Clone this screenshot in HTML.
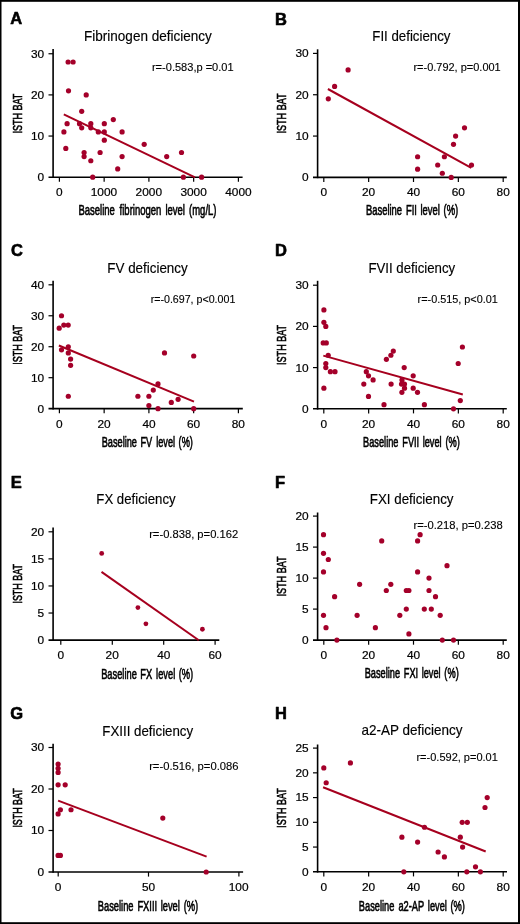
<!DOCTYPE html>
<html><head><meta charset="utf-8"><style>
html,body{margin:0;padding:0;background:#fff;}
body{width:520px;height:924px;overflow:hidden;}
svg{display:block;font-family:"Liberation Sans",sans-serif;will-change:transform;}
</style></head><body>
<svg width="520" height="924" viewBox="0 0 520 924">
<rect x="0" y="0" width="520" height="924" fill="#fff"/>
<line x1="53.1" y1="49.1" x2="53.1" y2="178.00" stroke="#000" stroke-width="1.6"/>
<line x1="48.5" y1="177.2" x2="242.6" y2="177.2" stroke="#000" stroke-width="1.6"/>
<text transform="translate(37.52,181.10) scale(1.0800,1)" font-size="11.0" font-weight="normal" fill="#000" stroke="#000" stroke-width="0.2">0</text>
<line x1="48.50" y1="136.05" x2="53.1" y2="136.05" stroke="#000" stroke-width="1.2"/>
<text transform="translate(30.93,139.95) scale(1.0800,1)" font-size="11.0" font-weight="normal" fill="#000" stroke="#000" stroke-width="0.2">10</text>
<line x1="48.50" y1="94.90" x2="53.1" y2="94.90" stroke="#000" stroke-width="1.2"/>
<text transform="translate(30.93,98.80) scale(1.0800,1)" font-size="11.0" font-weight="normal" fill="#000" stroke="#000" stroke-width="0.2">20</text>
<line x1="48.50" y1="53.75" x2="53.1" y2="53.75" stroke="#000" stroke-width="1.2"/>
<text transform="translate(30.93,57.65) scale(1.0800,1)" font-size="11.0" font-weight="normal" fill="#000" stroke="#000" stroke-width="0.2">30</text>
<line x1="59.40" y1="177.2" x2="59.40" y2="181.80" stroke="#000" stroke-width="1.2"/>
<text transform="translate(56.07,196.10) scale(1.0800,1)" font-size="11.0" font-weight="normal" fill="#000" stroke="#000" stroke-width="0.2">0</text>
<line x1="104.15" y1="177.2" x2="104.15" y2="181.80" stroke="#000" stroke-width="1.2"/>
<text transform="translate(90.70,196.10) scale(1.0800,1)" font-size="11.0" font-weight="normal" fill="#000" stroke="#000" stroke-width="0.2">1000</text>
<line x1="148.90" y1="177.2" x2="148.90" y2="181.80" stroke="#000" stroke-width="1.2"/>
<text transform="translate(135.59,196.10) scale(1.0800,1)" font-size="11.0" font-weight="normal" fill="#000" stroke="#000" stroke-width="0.2">2000</text>
<line x1="193.65" y1="177.2" x2="193.65" y2="181.80" stroke="#000" stroke-width="1.2"/>
<text transform="translate(180.40,196.10) scale(1.0800,1)" font-size="11.0" font-weight="normal" fill="#000" stroke="#000" stroke-width="0.2">3000</text>
<line x1="238.40" y1="177.2" x2="238.40" y2="181.80" stroke="#000" stroke-width="1.2"/>
<text transform="translate(225.27,196.10) scale(1.0800,1)" font-size="11.0" font-weight="normal" fill="#000" stroke="#000" stroke-width="0.2">4000</text>
<line x1="63.8" y1="114.4" x2="195" y2="177.3" stroke="#a6001e" stroke-width="2.0"/>
<circle cx="68.1" cy="61.98" r="2.6" fill="#a4002a"/>
<circle cx="73.1" cy="61.98" r="2.6" fill="#a4002a"/>
<circle cx="68.5" cy="90.78" r="2.6" fill="#a4002a"/>
<circle cx="86.2" cy="94.90" r="2.6" fill="#a4002a"/>
<circle cx="81.7" cy="111.36" r="2.6" fill="#a4002a"/>
<circle cx="67.1" cy="123.70" r="2.6" fill="#a4002a"/>
<circle cx="79.5" cy="123.70" r="2.6" fill="#a4002a"/>
<circle cx="90.8" cy="123.70" r="2.6" fill="#a4002a"/>
<circle cx="104.3" cy="123.70" r="2.6" fill="#a4002a"/>
<circle cx="113.3" cy="119.59" r="2.6" fill="#a4002a"/>
<circle cx="81.7" cy="127.82" r="2.6" fill="#a4002a"/>
<circle cx="90.8" cy="127.82" r="2.6" fill="#a4002a"/>
<circle cx="63.9" cy="131.94" r="2.6" fill="#a4002a"/>
<circle cx="98.3" cy="131.94" r="2.6" fill="#a4002a"/>
<circle cx="104.3" cy="131.94" r="2.6" fill="#a4002a"/>
<circle cx="122.1" cy="131.94" r="2.6" fill="#a4002a"/>
<circle cx="104.3" cy="140.16" r="2.6" fill="#a4002a"/>
<circle cx="65.8" cy="148.39" r="2.6" fill="#a4002a"/>
<circle cx="84.1" cy="152.51" r="2.6" fill="#a4002a"/>
<circle cx="100.1" cy="152.51" r="2.6" fill="#a4002a"/>
<circle cx="84.1" cy="156.62" r="2.6" fill="#a4002a"/>
<circle cx="122.1" cy="156.62" r="2.6" fill="#a4002a"/>
<circle cx="90.8" cy="160.74" r="2.6" fill="#a4002a"/>
<circle cx="117.7" cy="168.97" r="2.6" fill="#a4002a"/>
<circle cx="92.7" cy="177.20" r="2.6" fill="#a4002a"/>
<circle cx="144.2" cy="144.28" r="2.6" fill="#a4002a"/>
<circle cx="166.7" cy="156.62" r="2.6" fill="#a4002a"/>
<circle cx="181.5" cy="152.51" r="2.6" fill="#a4002a"/>
<circle cx="183.4" cy="177.20" r="2.6" fill="#a4002a"/>
<circle cx="201.6" cy="177.20" r="2.6" fill="#a4002a"/>
<text transform="translate(10.19,24.40) scale(1.0000,1)" font-size="16.5" font-weight="bold" fill="#000" stroke="#000" stroke-width="0.6" stroke-linejoin="round">A</text>
<text transform="translate(84.09,40.80) scale(0.9655,1)" font-size="14.0" font-weight="normal" fill="#000" stroke="#000" stroke-width="0.15">Fibrinogen deficiency</text>
<text transform="translate(151.94,70.70) scale(1.0635,1)" font-size="10.4" font-weight="normal" fill="#000" stroke="#000" stroke-width="0.12">r=-0.583,p =0.01</text>
<text transform="translate(78.44,215.40) scale(0.6699,1)" font-size="14.2" font-weight="normal" fill="#000" stroke="#000" stroke-width="0.6">Baseline</text>
<text transform="translate(119.61,215.40) scale(0.6699,1)" font-size="14.2" font-weight="normal" fill="#000" stroke="#000" stroke-width="0.6">fibrinogen</text>
<text transform="translate(165.40,215.40) scale(0.6699,1)" font-size="14.2" font-weight="normal" fill="#000" stroke="#000" stroke-width="0.6">level</text>
<text transform="translate(189.02,215.40) scale(0.6699,1)" font-size="14.2" font-weight="normal" fill="#000" stroke="#000" stroke-width="0.6">(mg/L)</text>
<text transform="translate(22.00,133.51) rotate(-90) scale(0.6828,1)" font-size="13.2" font-weight="normal" fill="#000" stroke="#000" stroke-width="0.6">ISTH BAT</text>
<line x1="317.6" y1="49.3" x2="317.6" y2="178.20" stroke="#000" stroke-width="1.6"/>
<line x1="313.0" y1="177.4" x2="506.8" y2="177.4" stroke="#000" stroke-width="1.6"/>
<text transform="translate(302.02,181.30) scale(1.0800,1)" font-size="11.0" font-weight="normal" fill="#000" stroke="#000" stroke-width="0.2">0</text>
<line x1="313.00" y1="136.07" x2="317.6" y2="136.07" stroke="#000" stroke-width="1.2"/>
<text transform="translate(295.43,139.97) scale(1.0800,1)" font-size="11.0" font-weight="normal" fill="#000" stroke="#000" stroke-width="0.2">10</text>
<line x1="313.00" y1="94.74" x2="317.6" y2="94.74" stroke="#000" stroke-width="1.2"/>
<text transform="translate(295.43,98.64) scale(1.0800,1)" font-size="11.0" font-weight="normal" fill="#000" stroke="#000" stroke-width="0.2">20</text>
<line x1="313.00" y1="53.41" x2="317.6" y2="53.41" stroke="#000" stroke-width="1.2"/>
<text transform="translate(295.43,57.31) scale(1.0800,1)" font-size="11.0" font-weight="normal" fill="#000" stroke="#000" stroke-width="0.2">30</text>
<line x1="323.80" y1="177.4" x2="323.80" y2="182.00" stroke="#000" stroke-width="1.2"/>
<text transform="translate(320.47,196.30) scale(1.0800,1)" font-size="11.0" font-weight="normal" fill="#000" stroke="#000" stroke-width="0.2">0</text>
<line x1="368.65" y1="177.4" x2="368.65" y2="182.00" stroke="#000" stroke-width="1.2"/>
<text transform="translate(361.97,196.30) scale(1.0800,1)" font-size="11.0" font-weight="normal" fill="#000" stroke="#000" stroke-width="0.2">20</text>
<line x1="413.50" y1="177.4" x2="413.50" y2="182.00" stroke="#000" stroke-width="1.2"/>
<text transform="translate(407.00,196.30) scale(1.0800,1)" font-size="11.0" font-weight="normal" fill="#000" stroke="#000" stroke-width="0.2">40</text>
<line x1="458.35" y1="177.4" x2="458.35" y2="182.00" stroke="#000" stroke-width="1.2"/>
<text transform="translate(451.67,196.30) scale(1.0800,1)" font-size="11.0" font-weight="normal" fill="#000" stroke="#000" stroke-width="0.2">60</text>
<line x1="503.20" y1="177.4" x2="503.20" y2="182.00" stroke="#000" stroke-width="1.2"/>
<text transform="translate(496.55,196.30) scale(1.0800,1)" font-size="11.0" font-weight="normal" fill="#000" stroke="#000" stroke-width="0.2">80</text>
<line x1="327.9" y1="89" x2="471.3" y2="167.8" stroke="#a6001e" stroke-width="2.0"/>
<circle cx="348.1" cy="69.94" r="2.6" fill="#a4002a"/>
<circle cx="334.6" cy="86.47" r="2.6" fill="#a4002a"/>
<circle cx="328.3" cy="98.87" r="2.6" fill="#a4002a"/>
<circle cx="464.5" cy="127.80" r="2.6" fill="#a4002a"/>
<circle cx="455.6" cy="136.07" r="2.6" fill="#a4002a"/>
<circle cx="453.5" cy="144.34" r="2.6" fill="#a4002a"/>
<circle cx="417.6" cy="156.74" r="2.6" fill="#a4002a"/>
<circle cx="444.4" cy="156.74" r="2.6" fill="#a4002a"/>
<circle cx="437.7" cy="165.00" r="2.6" fill="#a4002a"/>
<circle cx="471.5" cy="165.00" r="2.6" fill="#a4002a"/>
<circle cx="417.6" cy="169.13" r="2.6" fill="#a4002a"/>
<circle cx="442.3" cy="173.27" r="2.6" fill="#a4002a"/>
<circle cx="451.2" cy="177.40" r="2.6" fill="#a4002a"/>
<text transform="translate(274.93,24.60) scale(1.0000,1)" font-size="16.5" font-weight="bold" fill="#000" stroke="#000" stroke-width="0.6" stroke-linejoin="round">B</text>
<text transform="translate(372.31,40.90) scale(0.9486,1)" font-size="14.0" font-weight="normal" fill="#000" stroke="#000" stroke-width="0.15">FII deficiency</text>
<text transform="translate(413.45,71.00) scale(1.0556,1)" font-size="10.4" font-weight="normal" fill="#000" stroke="#000" stroke-width="0.12">r=-0.792, p=0.001</text>
<text transform="translate(365.95,215.40) scale(0.6638,1)" font-size="14.2" font-weight="normal" fill="#000" stroke="#000" stroke-width="0.6">Baseline</text>
<text transform="translate(405.89,215.40) scale(0.6638,1)" font-size="14.2" font-weight="normal" fill="#000" stroke="#000" stroke-width="0.6">FII</text>
<text transform="translate(420.39,215.40) scale(0.6638,1)" font-size="14.2" font-weight="normal" fill="#000" stroke="#000" stroke-width="0.6">level</text>
<text transform="translate(443.56,215.40) scale(0.6638,1)" font-size="14.2" font-weight="normal" fill="#000" stroke="#000" stroke-width="0.6">(%)</text>
<text transform="translate(286.00,133.51) rotate(-90) scale(0.6863,1)" font-size="13.2" font-weight="normal" fill="#000" stroke="#000" stroke-width="0.6">ISTH BAT</text>
<line x1="53.1" y1="280.8" x2="53.1" y2="409.45" stroke="#000" stroke-width="1.6"/>
<line x1="48.5" y1="408.65" x2="242.8" y2="408.65" stroke="#000" stroke-width="1.6"/>
<text transform="translate(37.52,412.55) scale(1.0800,1)" font-size="11.0" font-weight="normal" fill="#000" stroke="#000" stroke-width="0.2">0</text>
<line x1="48.50" y1="377.69" x2="53.1" y2="377.69" stroke="#000" stroke-width="1.2"/>
<text transform="translate(30.93,381.59) scale(1.0800,1)" font-size="11.0" font-weight="normal" fill="#000" stroke="#000" stroke-width="0.2">10</text>
<line x1="48.50" y1="346.73" x2="53.1" y2="346.73" stroke="#000" stroke-width="1.2"/>
<text transform="translate(30.93,350.63) scale(1.0800,1)" font-size="11.0" font-weight="normal" fill="#000" stroke="#000" stroke-width="0.2">20</text>
<line x1="48.50" y1="315.77" x2="53.1" y2="315.77" stroke="#000" stroke-width="1.2"/>
<text transform="translate(30.93,319.67) scale(1.0800,1)" font-size="11.0" font-weight="normal" fill="#000" stroke="#000" stroke-width="0.2">30</text>
<line x1="48.50" y1="284.81" x2="53.1" y2="284.81" stroke="#000" stroke-width="1.2"/>
<text transform="translate(30.93,288.71) scale(1.0800,1)" font-size="11.0" font-weight="normal" fill="#000" stroke="#000" stroke-width="0.2">40</text>
<line x1="59.40" y1="408.65" x2="59.40" y2="413.25" stroke="#000" stroke-width="1.2"/>
<text transform="translate(56.07,427.55) scale(1.0800,1)" font-size="11.0" font-weight="normal" fill="#000" stroke="#000" stroke-width="0.2">0</text>
<line x1="104.15" y1="408.65" x2="104.15" y2="413.25" stroke="#000" stroke-width="1.2"/>
<text transform="translate(97.47,427.55) scale(1.0800,1)" font-size="11.0" font-weight="normal" fill="#000" stroke="#000" stroke-width="0.2">20</text>
<line x1="148.90" y1="408.65" x2="148.90" y2="413.25" stroke="#000" stroke-width="1.2"/>
<text transform="translate(142.40,427.55) scale(1.0800,1)" font-size="11.0" font-weight="normal" fill="#000" stroke="#000" stroke-width="0.2">40</text>
<line x1="193.65" y1="408.65" x2="193.65" y2="413.25" stroke="#000" stroke-width="1.2"/>
<text transform="translate(186.97,427.55) scale(1.0800,1)" font-size="11.0" font-weight="normal" fill="#000" stroke="#000" stroke-width="0.2">60</text>
<line x1="238.40" y1="408.65" x2="238.40" y2="413.25" stroke="#000" stroke-width="1.2"/>
<text transform="translate(231.75,427.55) scale(1.0800,1)" font-size="11.0" font-weight="normal" fill="#000" stroke="#000" stroke-width="0.2">80</text>
<line x1="58.9" y1="345.5" x2="194" y2="401.6" stroke="#a6001e" stroke-width="2.0"/>
<circle cx="61.5" cy="315.77" r="2.6" fill="#a4002a"/>
<circle cx="59.2" cy="328.15" r="2.6" fill="#a4002a"/>
<circle cx="63.8" cy="325.06" r="2.6" fill="#a4002a"/>
<circle cx="68.2" cy="325.06" r="2.6" fill="#a4002a"/>
<circle cx="68.3" cy="346.73" r="2.6" fill="#a4002a"/>
<circle cx="61.5" cy="349.83" r="2.6" fill="#a4002a"/>
<circle cx="68.3" cy="352.92" r="2.6" fill="#a4002a"/>
<circle cx="70.6" cy="359.11" r="2.6" fill="#a4002a"/>
<circle cx="70.6" cy="365.31" r="2.6" fill="#a4002a"/>
<circle cx="68.3" cy="396.27" r="2.6" fill="#a4002a"/>
<circle cx="137.9" cy="396.27" r="2.6" fill="#a4002a"/>
<circle cx="164.5" cy="352.92" r="2.6" fill="#a4002a"/>
<circle cx="193.7" cy="356.02" r="2.6" fill="#a4002a"/>
<circle cx="158" cy="383.88" r="2.6" fill="#a4002a"/>
<circle cx="153.3" cy="390.07" r="2.6" fill="#a4002a"/>
<circle cx="148.9" cy="396.27" r="2.6" fill="#a4002a"/>
<circle cx="178.1" cy="399.36" r="2.6" fill="#a4002a"/>
<circle cx="171.3" cy="402.46" r="2.6" fill="#a4002a"/>
<circle cx="148.9" cy="405.55" r="2.6" fill="#a4002a"/>
<circle cx="158" cy="408.65" r="2.6" fill="#a4002a"/>
<circle cx="193.7" cy="408.65" r="2.6" fill="#a4002a"/>
<text transform="translate(11.04,255.90) scale(1.0000,1)" font-size="16.5" font-weight="bold" fill="#000" stroke="#000" stroke-width="0.6" stroke-linejoin="round">C</text>
<text transform="translate(107.30,272.60) scale(0.9579,1)" font-size="14.0" font-weight="normal" fill="#000" stroke="#000" stroke-width="0.15">FV deficiency</text>
<text transform="translate(150.67,302.50) scale(1.0250,1)" font-size="10.4" font-weight="normal" fill="#000" stroke="#000" stroke-width="0.12">r=-0.697, p&lt;0.001</text>
<text transform="translate(101.66,446.80) scale(0.6489,1)" font-size="14.2" font-weight="normal" fill="#000" stroke="#000" stroke-width="0.6">Baseline</text>
<text transform="translate(140.46,446.80) scale(0.6489,1)" font-size="14.2" font-weight="normal" fill="#000" stroke="#000" stroke-width="0.6">FV</text>
<text transform="translate(156.18,446.80) scale(0.6489,1)" font-size="14.2" font-weight="normal" fill="#000" stroke="#000" stroke-width="0.6">level</text>
<text transform="translate(178.58,446.80) scale(0.6489,1)" font-size="14.2" font-weight="normal" fill="#000" stroke="#000" stroke-width="0.6">(%)</text>
<text transform="translate(21.80,364.80) rotate(-90) scale(0.6811,1)" font-size="13.2" font-weight="normal" fill="#000" stroke="#000" stroke-width="0.6">ISTH BAT</text>
<line x1="317.6" y1="280.8" x2="317.6" y2="409.60" stroke="#000" stroke-width="1.6"/>
<line x1="313.0" y1="408.8" x2="506.8" y2="408.8" stroke="#000" stroke-width="1.6"/>
<text transform="translate(302.02,412.70) scale(1.0800,1)" font-size="11.0" font-weight="normal" fill="#000" stroke="#000" stroke-width="0.2">0</text>
<line x1="313.00" y1="367.60" x2="317.6" y2="367.60" stroke="#000" stroke-width="1.2"/>
<text transform="translate(295.43,371.50) scale(1.0800,1)" font-size="11.0" font-weight="normal" fill="#000" stroke="#000" stroke-width="0.2">10</text>
<line x1="313.00" y1="326.40" x2="317.6" y2="326.40" stroke="#000" stroke-width="1.2"/>
<text transform="translate(295.43,330.30) scale(1.0800,1)" font-size="11.0" font-weight="normal" fill="#000" stroke="#000" stroke-width="0.2">20</text>
<line x1="313.00" y1="285.20" x2="317.6" y2="285.20" stroke="#000" stroke-width="1.2"/>
<text transform="translate(295.43,289.10) scale(1.0800,1)" font-size="11.0" font-weight="normal" fill="#000" stroke="#000" stroke-width="0.2">30</text>
<line x1="323.80" y1="408.8" x2="323.80" y2="413.40" stroke="#000" stroke-width="1.2"/>
<text transform="translate(320.47,427.70) scale(1.0800,1)" font-size="11.0" font-weight="normal" fill="#000" stroke="#000" stroke-width="0.2">0</text>
<line x1="368.65" y1="408.8" x2="368.65" y2="413.40" stroke="#000" stroke-width="1.2"/>
<text transform="translate(361.97,427.70) scale(1.0800,1)" font-size="11.0" font-weight="normal" fill="#000" stroke="#000" stroke-width="0.2">20</text>
<line x1="413.50" y1="408.8" x2="413.50" y2="413.40" stroke="#000" stroke-width="1.2"/>
<text transform="translate(407.00,427.70) scale(1.0800,1)" font-size="11.0" font-weight="normal" fill="#000" stroke="#000" stroke-width="0.2">40</text>
<line x1="458.35" y1="408.8" x2="458.35" y2="413.40" stroke="#000" stroke-width="1.2"/>
<text transform="translate(451.67,427.70) scale(1.0800,1)" font-size="11.0" font-weight="normal" fill="#000" stroke="#000" stroke-width="0.2">60</text>
<line x1="503.20" y1="408.8" x2="503.20" y2="413.40" stroke="#000" stroke-width="1.2"/>
<text transform="translate(496.55,427.70) scale(1.0800,1)" font-size="11.0" font-weight="normal" fill="#000" stroke="#000" stroke-width="0.2">80</text>
<line x1="323.3" y1="355.6" x2="462.8" y2="394.5" stroke="#a6001e" stroke-width="2.0"/>
<circle cx="323.9" cy="309.92" r="2.6" fill="#a4002a"/>
<circle cx="323.9" cy="322.28" r="2.6" fill="#a4002a"/>
<circle cx="325.8" cy="326.40" r="2.6" fill="#a4002a"/>
<circle cx="323.2" cy="342.88" r="2.6" fill="#a4002a"/>
<circle cx="326.3" cy="342.88" r="2.6" fill="#a4002a"/>
<circle cx="328.2" cy="355.24" r="2.6" fill="#a4002a"/>
<circle cx="325.8" cy="363.48" r="2.6" fill="#a4002a"/>
<circle cx="325.8" cy="367.60" r="2.6" fill="#a4002a"/>
<circle cx="330.4" cy="371.72" r="2.6" fill="#a4002a"/>
<circle cx="335" cy="371.72" r="2.6" fill="#a4002a"/>
<circle cx="323.9" cy="388.20" r="2.6" fill="#a4002a"/>
<circle cx="393.3" cy="351.12" r="2.6" fill="#a4002a"/>
<circle cx="390.9" cy="355.24" r="2.6" fill="#a4002a"/>
<circle cx="386.4" cy="359.36" r="2.6" fill="#a4002a"/>
<circle cx="404.2" cy="367.60" r="2.6" fill="#a4002a"/>
<circle cx="366.3" cy="371.72" r="2.6" fill="#a4002a"/>
<circle cx="368.5" cy="375.84" r="2.6" fill="#a4002a"/>
<circle cx="373.1" cy="379.96" r="2.6" fill="#a4002a"/>
<circle cx="363.8" cy="384.08" r="2.6" fill="#a4002a"/>
<circle cx="391.1" cy="384.08" r="2.6" fill="#a4002a"/>
<circle cx="368.5" cy="396.44" r="2.6" fill="#a4002a"/>
<circle cx="384" cy="404.68" r="2.6" fill="#a4002a"/>
<circle cx="402" cy="379.96" r="2.6" fill="#a4002a"/>
<circle cx="401.5" cy="384.08" r="2.6" fill="#a4002a"/>
<circle cx="404.5" cy="384.08" r="2.6" fill="#a4002a"/>
<circle cx="404.5" cy="388.20" r="2.6" fill="#a4002a"/>
<circle cx="401.9" cy="392.32" r="2.6" fill="#a4002a"/>
<circle cx="462.4" cy="347.00" r="2.6" fill="#a4002a"/>
<circle cx="458.2" cy="363.48" r="2.6" fill="#a4002a"/>
<circle cx="413.2" cy="375.84" r="2.6" fill="#a4002a"/>
<circle cx="413.2" cy="388.20" r="2.6" fill="#a4002a"/>
<circle cx="417.5" cy="392.32" r="2.6" fill="#a4002a"/>
<circle cx="424.4" cy="404.68" r="2.6" fill="#a4002a"/>
<circle cx="460.3" cy="400.56" r="2.6" fill="#a4002a"/>
<circle cx="453.5" cy="408.80" r="2.6" fill="#a4002a"/>
<text transform="translate(274.93,255.80) scale(1.0000,1)" font-size="16.5" font-weight="bold" fill="#000" stroke="#000" stroke-width="0.6" stroke-linejoin="round">D</text>
<text transform="translate(368.41,272.60) scale(0.9464,1)" font-size="14.0" font-weight="normal" fill="#000" stroke="#000" stroke-width="0.15">FVII deficiency</text>
<text transform="translate(417.56,302.50) scale(1.0450,1)" font-size="10.4" font-weight="normal" fill="#000" stroke="#000" stroke-width="0.12">r=-0.515, p&lt;0.01</text>
<text transform="translate(363.06,446.80) scale(0.6502,1)" font-size="14.2" font-weight="normal" fill="#000" stroke="#000" stroke-width="0.6">Baseline</text>
<text transform="translate(402.26,446.80) scale(0.6502,1)" font-size="14.2" font-weight="normal" fill="#000" stroke="#000" stroke-width="0.6">FVII</text>
<text transform="translate(422.68,446.80) scale(0.6502,1)" font-size="14.2" font-weight="normal" fill="#000" stroke="#000" stroke-width="0.6">level</text>
<text transform="translate(445.45,446.80) scale(0.6502,1)" font-size="14.2" font-weight="normal" fill="#000" stroke="#000" stroke-width="0.6">(%)</text>
<text transform="translate(285.70,364.91) rotate(-90) scale(0.6845,1)" font-size="13.2" font-weight="normal" fill="#000" stroke="#000" stroke-width="0.6">ISTH BAT</text>
<line x1="53.1" y1="527.5" x2="53.1" y2="640.90" stroke="#000" stroke-width="1.6"/>
<line x1="48.5" y1="640.1" x2="219.3" y2="640.1" stroke="#000" stroke-width="1.6"/>
<text transform="translate(37.52,644.00) scale(1.0800,1)" font-size="11.0" font-weight="normal" fill="#000" stroke="#000" stroke-width="0.2">0</text>
<line x1="48.50" y1="613.02" x2="53.1" y2="613.02" stroke="#000" stroke-width="1.2"/>
<text transform="translate(37.58,616.92) scale(1.0800,1)" font-size="11.0" font-weight="normal" fill="#000" stroke="#000" stroke-width="0.2">5</text>
<line x1="48.50" y1="585.95" x2="53.1" y2="585.95" stroke="#000" stroke-width="1.2"/>
<text transform="translate(30.93,589.85) scale(1.0800,1)" font-size="11.0" font-weight="normal" fill="#000" stroke="#000" stroke-width="0.2">10</text>
<line x1="48.50" y1="558.88" x2="53.1" y2="558.88" stroke="#000" stroke-width="1.2"/>
<text transform="translate(30.99,562.77) scale(1.0800,1)" font-size="11.0" font-weight="normal" fill="#000" stroke="#000" stroke-width="0.2">15</text>
<line x1="48.50" y1="531.80" x2="53.1" y2="531.80" stroke="#000" stroke-width="1.2"/>
<text transform="translate(30.93,535.70) scale(1.0800,1)" font-size="11.0" font-weight="normal" fill="#000" stroke="#000" stroke-width="0.2">20</text>
<line x1="60.80" y1="640.1" x2="60.80" y2="644.70" stroke="#000" stroke-width="1.2"/>
<text transform="translate(57.47,659.00) scale(1.0800,1)" font-size="11.0" font-weight="normal" fill="#000" stroke="#000" stroke-width="0.2">0</text>
<line x1="112.30" y1="640.1" x2="112.30" y2="644.70" stroke="#000" stroke-width="1.2"/>
<text transform="translate(105.62,659.00) scale(1.0800,1)" font-size="11.0" font-weight="normal" fill="#000" stroke="#000" stroke-width="0.2">20</text>
<line x1="163.70" y1="640.1" x2="163.70" y2="644.70" stroke="#000" stroke-width="1.2"/>
<text transform="translate(157.20,659.00) scale(1.0800,1)" font-size="11.0" font-weight="normal" fill="#000" stroke="#000" stroke-width="0.2">40</text>
<line x1="215.10" y1="640.1" x2="215.10" y2="644.70" stroke="#000" stroke-width="1.2"/>
<text transform="translate(208.42,659.00) scale(1.0800,1)" font-size="11.0" font-weight="normal" fill="#000" stroke="#000" stroke-width="0.2">60</text>
<line x1="101.5" y1="571.9" x2="198.8" y2="640.2" stroke="#a6001e" stroke-width="2.0"/>
<circle cx="101.7" cy="553.46" r="2.4" fill="#a4002a"/>
<circle cx="137.9" cy="607.61" r="2.4" fill="#a4002a"/>
<circle cx="145.9" cy="623.86" r="2.4" fill="#a4002a"/>
<circle cx="202.4" cy="629.27" r="2.4" fill="#a4002a"/>
<text transform="translate(10.63,487.60) scale(1.0000,1)" font-size="16.5" font-weight="bold" fill="#000" stroke="#000" stroke-width="0.6" stroke-linejoin="round">E</text>
<text transform="translate(96.31,504.10) scale(0.9446,1)" font-size="14.0" font-weight="normal" fill="#000" stroke="#000" stroke-width="0.15">FX deficiency</text>
<text transform="translate(149.14,538.30) scale(1.0784,1)" font-size="10.4" font-weight="normal" fill="#000" stroke="#000" stroke-width="0.12">r=-0.838, p=0.162</text>
<text transform="translate(101.15,678.70) scale(0.6546,1)" font-size="14.2" font-weight="normal" fill="#000" stroke="#000" stroke-width="0.6">Baseline</text>
<text transform="translate(140.34,678.70) scale(0.6546,1)" font-size="14.2" font-weight="normal" fill="#000" stroke="#000" stroke-width="0.6">FX</text>
<text transform="translate(156.11,678.70) scale(0.6546,1)" font-size="14.2" font-weight="normal" fill="#000" stroke="#000" stroke-width="0.6">level</text>
<text transform="translate(178.75,678.70) scale(0.6546,1)" font-size="14.2" font-weight="normal" fill="#000" stroke="#000" stroke-width="0.6">(%)</text>
<text transform="translate(22.10,603.60) rotate(-90) scale(0.6776,1)" font-size="13.2" font-weight="normal" fill="#000" stroke="#000" stroke-width="0.6">ISTH BAT</text>
<line x1="317.6" y1="512.5" x2="317.6" y2="640.90" stroke="#000" stroke-width="1.6"/>
<line x1="313.0" y1="640.1" x2="506.8" y2="640.1" stroke="#000" stroke-width="1.6"/>
<text transform="translate(302.02,644.00) scale(1.0800,1)" font-size="11.0" font-weight="normal" fill="#000" stroke="#000" stroke-width="0.2">0</text>
<line x1="313.00" y1="609.10" x2="317.6" y2="609.10" stroke="#000" stroke-width="1.2"/>
<text transform="translate(302.08,613.00) scale(1.0800,1)" font-size="11.0" font-weight="normal" fill="#000" stroke="#000" stroke-width="0.2">5</text>
<line x1="313.00" y1="578.10" x2="317.6" y2="578.10" stroke="#000" stroke-width="1.2"/>
<text transform="translate(295.43,582.00) scale(1.0800,1)" font-size="11.0" font-weight="normal" fill="#000" stroke="#000" stroke-width="0.2">10</text>
<line x1="313.00" y1="547.10" x2="317.6" y2="547.10" stroke="#000" stroke-width="1.2"/>
<text transform="translate(295.49,551.00) scale(1.0800,1)" font-size="11.0" font-weight="normal" fill="#000" stroke="#000" stroke-width="0.2">15</text>
<line x1="313.00" y1="516.10" x2="317.6" y2="516.10" stroke="#000" stroke-width="1.2"/>
<text transform="translate(295.43,520.00) scale(1.0800,1)" font-size="11.0" font-weight="normal" fill="#000" stroke="#000" stroke-width="0.2">20</text>
<line x1="323.80" y1="640.1" x2="323.80" y2="644.70" stroke="#000" stroke-width="1.2"/>
<text transform="translate(320.47,659.00) scale(1.0800,1)" font-size="11.0" font-weight="normal" fill="#000" stroke="#000" stroke-width="0.2">0</text>
<line x1="368.65" y1="640.1" x2="368.65" y2="644.70" stroke="#000" stroke-width="1.2"/>
<text transform="translate(361.97,659.00) scale(1.0800,1)" font-size="11.0" font-weight="normal" fill="#000" stroke="#000" stroke-width="0.2">20</text>
<line x1="413.50" y1="640.1" x2="413.50" y2="644.70" stroke="#000" stroke-width="1.2"/>
<text transform="translate(407.00,659.00) scale(1.0800,1)" font-size="11.0" font-weight="normal" fill="#000" stroke="#000" stroke-width="0.2">40</text>
<line x1="458.35" y1="640.1" x2="458.35" y2="644.70" stroke="#000" stroke-width="1.2"/>
<text transform="translate(451.67,659.00) scale(1.0800,1)" font-size="11.0" font-weight="normal" fill="#000" stroke="#000" stroke-width="0.2">60</text>
<line x1="503.20" y1="640.1" x2="503.20" y2="644.70" stroke="#000" stroke-width="1.2"/>
<text transform="translate(496.55,659.00) scale(1.0800,1)" font-size="11.0" font-weight="normal" fill="#000" stroke="#000" stroke-width="0.2">80</text>
<circle cx="323.5" cy="534.70" r="2.6" fill="#a4002a"/>
<circle cx="323.5" cy="553.30" r="2.6" fill="#a4002a"/>
<circle cx="328.3" cy="559.50" r="2.6" fill="#a4002a"/>
<circle cx="323.5" cy="571.90" r="2.6" fill="#a4002a"/>
<circle cx="334.6" cy="596.70" r="2.6" fill="#a4002a"/>
<circle cx="323.5" cy="615.30" r="2.6" fill="#a4002a"/>
<circle cx="326" cy="627.70" r="2.6" fill="#a4002a"/>
<circle cx="336.9" cy="640.10" r="2.6" fill="#a4002a"/>
<circle cx="381.7" cy="540.90" r="2.6" fill="#a4002a"/>
<circle cx="359.6" cy="584.30" r="2.6" fill="#a4002a"/>
<circle cx="390.8" cy="584.30" r="2.6" fill="#a4002a"/>
<circle cx="386.3" cy="590.50" r="2.6" fill="#a4002a"/>
<circle cx="406.3" cy="590.50" r="2.6" fill="#a4002a"/>
<circle cx="408.9" cy="590.50" r="2.6" fill="#a4002a"/>
<circle cx="357.1" cy="615.30" r="2.6" fill="#a4002a"/>
<circle cx="399.8" cy="615.30" r="2.6" fill="#a4002a"/>
<circle cx="406.3" cy="609.10" r="2.6" fill="#a4002a"/>
<circle cx="375.4" cy="627.70" r="2.6" fill="#a4002a"/>
<circle cx="408.9" cy="633.90" r="2.6" fill="#a4002a"/>
<circle cx="420.1" cy="534.70" r="2.6" fill="#a4002a"/>
<circle cx="417.6" cy="540.90" r="2.6" fill="#a4002a"/>
<circle cx="447" cy="565.70" r="2.6" fill="#a4002a"/>
<circle cx="417.6" cy="571.90" r="2.6" fill="#a4002a"/>
<circle cx="429" cy="578.10" r="2.6" fill="#a4002a"/>
<circle cx="429" cy="590.50" r="2.6" fill="#a4002a"/>
<circle cx="435.5" cy="596.70" r="2.6" fill="#a4002a"/>
<circle cx="424.3" cy="609.10" r="2.6" fill="#a4002a"/>
<circle cx="431.3" cy="609.10" r="2.6" fill="#a4002a"/>
<circle cx="440.2" cy="615.30" r="2.6" fill="#a4002a"/>
<circle cx="442.3" cy="640.10" r="2.6" fill="#a4002a"/>
<circle cx="453.5" cy="640.10" r="2.6" fill="#a4002a"/>
<text transform="translate(274.93,487.60) scale(1.0000,1)" font-size="16.5" font-weight="bold" fill="#000" stroke="#000" stroke-width="0.6" stroke-linejoin="round">F</text>
<text transform="translate(369.80,504.10) scale(0.9523,1)" font-size="14.0" font-weight="normal" fill="#000" stroke="#000" stroke-width="0.15">FXI deficiency</text>
<text transform="translate(413.43,528.90) scale(1.0807,1)" font-size="10.4" font-weight="normal" fill="#000" stroke="#000" stroke-width="0.12">r=-0.218, p=0.238</text>
<text transform="translate(364.66,677.90) scale(0.6498,1)" font-size="14.2" font-weight="normal" fill="#000" stroke="#000" stroke-width="0.6">Baseline</text>
<text transform="translate(403.80,677.90) scale(0.6498,1)" font-size="14.2" font-weight="normal" fill="#000" stroke="#000" stroke-width="0.6">FXI</text>
<text transform="translate(421.63,677.90) scale(0.6498,1)" font-size="14.2" font-weight="normal" fill="#000" stroke="#000" stroke-width="0.6">level</text>
<text transform="translate(444.36,677.90) scale(0.6498,1)" font-size="14.2" font-weight="normal" fill="#000" stroke="#000" stroke-width="0.6">(%)</text>
<text transform="translate(286.20,596.51) rotate(-90) scale(0.6863,1)" font-size="13.2" font-weight="normal" fill="#000" stroke="#000" stroke-width="0.6">ISTH BAT</text>
<line x1="53.1" y1="743.8" x2="53.1" y2="872.80" stroke="#000" stroke-width="1.6"/>
<line x1="48.5" y1="872.0" x2="243.1" y2="872.0" stroke="#000" stroke-width="1.6"/>
<text transform="translate(37.52,875.90) scale(1.0800,1)" font-size="11.0" font-weight="normal" fill="#000" stroke="#000" stroke-width="0.2">0</text>
<line x1="48.50" y1="830.50" x2="53.1" y2="830.50" stroke="#000" stroke-width="1.2"/>
<text transform="translate(30.93,834.40) scale(1.0800,1)" font-size="11.0" font-weight="normal" fill="#000" stroke="#000" stroke-width="0.2">10</text>
<line x1="48.50" y1="789.00" x2="53.1" y2="789.00" stroke="#000" stroke-width="1.2"/>
<text transform="translate(30.93,792.90) scale(1.0800,1)" font-size="11.0" font-weight="normal" fill="#000" stroke="#000" stroke-width="0.2">20</text>
<line x1="48.50" y1="747.50" x2="53.1" y2="747.50" stroke="#000" stroke-width="1.2"/>
<text transform="translate(30.93,751.40) scale(1.0800,1)" font-size="11.0" font-weight="normal" fill="#000" stroke="#000" stroke-width="0.2">30</text>
<line x1="58.20" y1="872.0" x2="58.20" y2="876.60" stroke="#000" stroke-width="1.2"/>
<text transform="translate(54.87,890.90) scale(1.0800,1)" font-size="11.0" font-weight="normal" fill="#000" stroke="#000" stroke-width="0.2">0</text>
<line x1="148.50" y1="872.0" x2="148.50" y2="876.60" stroke="#000" stroke-width="1.2"/>
<text transform="translate(141.88,890.90) scale(1.0800,1)" font-size="11.0" font-weight="normal" fill="#000" stroke="#000" stroke-width="0.2">50</text>
<line x1="238.90" y1="872.0" x2="238.90" y2="876.60" stroke="#000" stroke-width="1.2"/>
<text transform="translate(228.77,890.90) scale(1.0800,1)" font-size="11.0" font-weight="normal" fill="#000" stroke="#000" stroke-width="0.2">100</text>
<line x1="58.1" y1="800.6" x2="206.6" y2="856.6" stroke="#a6001e" stroke-width="2.0"/>
<circle cx="58.1" cy="764.10" r="2.6" fill="#a4002a"/>
<circle cx="58.1" cy="768.25" r="2.6" fill="#a4002a"/>
<circle cx="58.1" cy="772.40" r="2.6" fill="#a4002a"/>
<circle cx="58.1" cy="784.85" r="2.6" fill="#a4002a"/>
<circle cx="65.2" cy="784.85" r="2.6" fill="#a4002a"/>
<circle cx="60.4" cy="809.75" r="2.6" fill="#a4002a"/>
<circle cx="71" cy="809.75" r="2.6" fill="#a4002a"/>
<circle cx="58.1" cy="813.90" r="2.6" fill="#a4002a"/>
<circle cx="58.1" cy="855.40" r="2.6" fill="#a4002a"/>
<circle cx="60.4" cy="855.40" r="2.6" fill="#a4002a"/>
<circle cx="162.8" cy="818.05" r="2.6" fill="#a4002a"/>
<circle cx="206.2" cy="872.00" r="2.6" fill="#a4002a"/>
<text transform="translate(10.34,718.90) scale(1.0000,1)" font-size="16.5" font-weight="bold" fill="#000" stroke="#000" stroke-width="0.6" stroke-linejoin="round">G</text>
<text transform="translate(102.31,735.50) scale(0.9502,1)" font-size="14.0" font-weight="normal" fill="#000" stroke="#000" stroke-width="0.15">FXIII deficiency</text>
<text transform="translate(149.13,769.50) scale(1.0819,1)" font-size="10.4" font-weight="normal" fill="#000" stroke="#000" stroke-width="0.12">r=-0.516, p=0.086</text>
<text transform="translate(97.75,911.10) scale(0.6570,1)" font-size="14.2" font-weight="normal" fill="#000" stroke="#000" stroke-width="0.6">Baseline</text>
<text transform="translate(137.39,911.10) scale(0.6570,1)" font-size="14.2" font-weight="normal" fill="#000" stroke="#000" stroke-width="0.6">FXIII</text>
<text transform="translate(160.66,911.10) scale(0.6570,1)" font-size="14.2" font-weight="normal" fill="#000" stroke="#000" stroke-width="0.6">level</text>
<text transform="translate(183.70,911.10) scale(0.6570,1)" font-size="14.2" font-weight="normal" fill="#000" stroke="#000" stroke-width="0.6">(%)</text>
<text transform="translate(22.10,827.60) rotate(-90) scale(0.6724,1)" font-size="13.2" font-weight="normal" fill="#000" stroke="#000" stroke-width="0.6">ISTH BAT</text>
<line x1="317.6" y1="744.5" x2="317.6" y2="872.60" stroke="#000" stroke-width="1.6"/>
<line x1="313.0" y1="871.8" x2="507.0" y2="871.8" stroke="#000" stroke-width="1.6"/>
<text transform="translate(302.02,875.70) scale(1.0800,1)" font-size="11.0" font-weight="normal" fill="#000" stroke="#000" stroke-width="0.2">0</text>
<line x1="313.00" y1="847.06" x2="317.6" y2="847.06" stroke="#000" stroke-width="1.2"/>
<text transform="translate(302.08,850.96) scale(1.0800,1)" font-size="11.0" font-weight="normal" fill="#000" stroke="#000" stroke-width="0.2">5</text>
<line x1="313.00" y1="822.32" x2="317.6" y2="822.32" stroke="#000" stroke-width="1.2"/>
<text transform="translate(295.43,826.22) scale(1.0800,1)" font-size="11.0" font-weight="normal" fill="#000" stroke="#000" stroke-width="0.2">10</text>
<line x1="313.00" y1="797.58" x2="317.6" y2="797.58" stroke="#000" stroke-width="1.2"/>
<text transform="translate(295.49,801.48) scale(1.0800,1)" font-size="11.0" font-weight="normal" fill="#000" stroke="#000" stroke-width="0.2">15</text>
<line x1="313.00" y1="772.84" x2="317.6" y2="772.84" stroke="#000" stroke-width="1.2"/>
<text transform="translate(295.43,776.74) scale(1.0800,1)" font-size="11.0" font-weight="normal" fill="#000" stroke="#000" stroke-width="0.2">20</text>
<line x1="313.00" y1="748.10" x2="317.6" y2="748.10" stroke="#000" stroke-width="1.2"/>
<text transform="translate(295.49,752.00) scale(1.0800,1)" font-size="11.0" font-weight="normal" fill="#000" stroke="#000" stroke-width="0.2">25</text>
<line x1="323.80" y1="871.8" x2="323.80" y2="876.40" stroke="#000" stroke-width="1.2"/>
<text transform="translate(320.47,890.70) scale(1.0800,1)" font-size="11.0" font-weight="normal" fill="#000" stroke="#000" stroke-width="0.2">0</text>
<line x1="368.65" y1="871.8" x2="368.65" y2="876.40" stroke="#000" stroke-width="1.2"/>
<text transform="translate(361.97,890.70) scale(1.0800,1)" font-size="11.0" font-weight="normal" fill="#000" stroke="#000" stroke-width="0.2">20</text>
<line x1="413.50" y1="871.8" x2="413.50" y2="876.40" stroke="#000" stroke-width="1.2"/>
<text transform="translate(407.00,890.70) scale(1.0800,1)" font-size="11.0" font-weight="normal" fill="#000" stroke="#000" stroke-width="0.2">40</text>
<line x1="458.35" y1="871.8" x2="458.35" y2="876.40" stroke="#000" stroke-width="1.2"/>
<text transform="translate(451.67,890.70) scale(1.0800,1)" font-size="11.0" font-weight="normal" fill="#000" stroke="#000" stroke-width="0.2">60</text>
<line x1="503.20" y1="871.8" x2="503.20" y2="876.40" stroke="#000" stroke-width="1.2"/>
<text transform="translate(496.55,890.70) scale(1.0800,1)" font-size="11.0" font-weight="normal" fill="#000" stroke="#000" stroke-width="0.2">80</text>
<line x1="323.1" y1="787.3" x2="485.7" y2="851.5" stroke="#a6001e" stroke-width="2.0"/>
<circle cx="323.8" cy="767.89" r="2.6" fill="#a4002a"/>
<circle cx="350.4" cy="762.94" r="2.6" fill="#a4002a"/>
<circle cx="326.2" cy="782.74" r="2.6" fill="#a4002a"/>
<circle cx="401.9" cy="837.16" r="2.6" fill="#a4002a"/>
<circle cx="403.8" cy="871.80" r="2.6" fill="#a4002a"/>
<circle cx="487.2" cy="797.58" r="2.6" fill="#a4002a"/>
<circle cx="485" cy="807.48" r="2.6" fill="#a4002a"/>
<circle cx="462.2" cy="822.32" r="2.6" fill="#a4002a"/>
<circle cx="467.3" cy="822.32" r="2.6" fill="#a4002a"/>
<circle cx="424.5" cy="827.27" r="2.6" fill="#a4002a"/>
<circle cx="460.3" cy="837.16" r="2.6" fill="#a4002a"/>
<circle cx="417.6" cy="842.11" r="2.6" fill="#a4002a"/>
<circle cx="462.6" cy="847.06" r="2.6" fill="#a4002a"/>
<circle cx="438.1" cy="852.01" r="2.6" fill="#a4002a"/>
<circle cx="444.4" cy="856.96" r="2.6" fill="#a4002a"/>
<circle cx="475.5" cy="866.85" r="2.6" fill="#a4002a"/>
<circle cx="466.8" cy="871.80" r="2.6" fill="#a4002a"/>
<circle cx="480.4" cy="871.80" r="2.6" fill="#a4002a"/>
<text transform="translate(274.93,718.90) scale(1.0000,1)" font-size="16.5" font-weight="bold" fill="#000" stroke="#000" stroke-width="0.6" stroke-linejoin="round">H</text>
<text transform="translate(361.43,735.20) scale(0.9647,1)" font-size="14.0" font-weight="normal" fill="#000" stroke="#000" stroke-width="0.15">a2-AP deficiency</text>
<text transform="translate(416.45,761.10) scale(1.0595,1)" font-size="10.4" font-weight="normal" fill="#000" stroke="#000" stroke-width="0.12">r=-0.592, p=0.01</text>
<text transform="translate(358.85,910.60) scale(0.6527,1)" font-size="14.2" font-weight="normal" fill="#000" stroke="#000" stroke-width="0.6">Baseline</text>
<text transform="translate(398.39,910.60) scale(0.6527,1)" font-size="14.2" font-weight="normal" fill="#000" stroke="#000" stroke-width="0.6">a2-AP</text>
<text transform="translate(427.83,910.60) scale(0.6527,1)" font-size="14.2" font-weight="normal" fill="#000" stroke="#000" stroke-width="0.6">level</text>
<text transform="translate(450.49,910.60) scale(0.6527,1)" font-size="14.2" font-weight="normal" fill="#000" stroke="#000" stroke-width="0.6">(%)</text>
<text transform="translate(286.20,827.80) rotate(-90) scale(0.6758,1)" font-size="13.2" font-weight="normal" fill="#000" stroke="#000" stroke-width="0.6">ISTH BAT</text>
<rect x="0" y="0" width="1.5" height="924" fill="#000"/>
<rect x="0" y="0" width="520" height="1.8" fill="#000"/>
<rect x="518" y="0" width="2" height="924" fill="#000"/>
<rect x="0" y="922.2" width="520" height="1.8" fill="#000"/>
</svg>
</body></html>
